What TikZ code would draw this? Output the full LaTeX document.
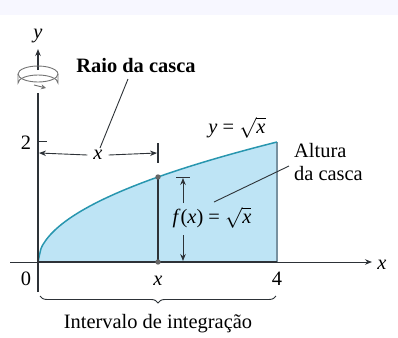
\documentclass[tikz,border=0pt]{standalone}
\usepackage{fontspec}
\setmainfont{Liberation Serif}
\usetikzlibrary{arrows.meta,decorations.pathreplacing}
\definecolor{curvec}{RGB}{40,150,175}
\definecolor{fillc}{RGB}{190,228,245}
\definecolor{axisc}{RGB}{45,50,55}
\definecolor{edgec}{RGB}{120,145,160}
\newcommand{\fs}{\fontsize{20.5}{23}\selectfont}
\newcommand{\rx}{$\sqrt{\textit{x}}$}
\tikzset{
  lbl/.style={font=\fs, text=black, inner sep=0pt},
  ilbl/.style={font=\fs\itshape, text=black, inner sep=0pt},
  lead/.style={draw=axisc, line width=0.9pt},
  dim/.style={draw=axisc, line width=0.9pt},
  tip/.style={-{Stealth[length=7pt,width=5.5pt]}},
}
\begin{document}
\begin{tikzpicture}[x=1bp,y=-1bp]
\useasboundingbox (0,0) rectangle (398,338);
\fill[blue!3] (0,0) rectangle (398,15);
% coordinates
\coordinate (O) at (38,262);
\coordinate (X4) at (277,262);
\coordinate (X4top) at (277,142);
\coordinate (P) at (158,177);
\coordinate (Px) at (158,262);
% fill region
\fill[fillc] (38,262) -- plot[domain=0:4,samples=80,smooth] ({38+59.75*\x},{262-60*sqrt(\x)}) -- (277,262) -- cycle;
\draw[edgec, line width=1.2pt] (X4top) -- (X4);
\draw[curvec, line width=1.5pt] plot[domain=0:4,samples=80,smooth] ({38+59.75*\x},{262-60*sqrt(\x)});
% axes
\draw[axisc, line width=0.9pt, tip] (10,262) -- (372,262) coordinate (xend);
\draw[axisc, line width=2.2pt] (O) -- (X4);
\node[ilbl] (xl) at (382,265) {x};
\draw[axisc, line width=1.1pt] (38,292) -- (38,93);
\draw[axisc, line width=1.1pt, tip] (38,70) -- (38,49);
\node[ilbl] (yl) at (38,36) {y};
% rotation icon
\draw[black!55, line width=0.9pt] (58,74) arc[start angle=0,end angle=180,x radius=20,y radius=8];
\draw[black!55, line width=0.9pt] (18,74) -- (18,83) arc[start angle=180,end angle=360,x radius=20,y radius=8] -- (58,74);
\draw[black!55, line width=0.9pt] (18,74) arc[start angle=180,end angle=300,x radius=20,y radius=8];
\draw[black!55, line width=0.9pt] (58,74) arc[start angle=0,end angle=-60,x radius=20,y radius=8];
\draw[black!55, line width=0.9pt, -{Stealth[length=5pt,width=5pt]}] (34,85) -- (46,88);
% ticks and labels
\draw[axisc, line width=0.9pt] (38,141) -- (47,141);
\node[lbl] (two) at (26,143) {2};
\node[lbl] (zero) at (26,279) {0};
\node[ilbl] (xp) at (158,281) {x};
\node[lbl] (four) at (277,279) {4};
% point x
\draw[axisc, line width=1.1pt] (P) -- (Px);
\fill[black!60] (P) circle (2.7);
\fill[black!60] (Px) circle (2.7);
% radius arrow
\draw[axisc, line width=1.1pt] (158,143) -- (158,163);
\node[ilbl, fill=white, inner xsep=6pt] (xr) at (98,155) {x};
\draw[dim, tip] (xr.east) -- (157,153);
\draw[dim, tip] (xr.west) -- (39,153);
% f(x) arrow
\draw[dim] (176,177) -- (190,177);
\node[lbl] (fx) at (212,218) {\textit{f}(\textit{x}) = \rx};
\draw[dim, tip] (183,203) -- (183,178);
\draw[dim, tip] (183,235) -- (183,261);
% labels
\node[lbl, font=\fs\bfseries] (raio) at (136,66) {Raio da casca};
\draw[lead] (128,79) -- (100,148);
\node[lbl] (eq) at (237,128) {\textit{y} = \rx};
\node[lbl, align=left, anchor=west] (alt) at (294,162) {Altura\\da casca};
\draw[lead] (289,166) -- (214,202);
% brace
\draw[axisc, line width=0.9pt, decorate, decoration={brace, mirror, amplitude=7pt}] (40,296) -- (276,296);
\node[lbl] (int) at (158,324) {Intervalo de integração};
\end{tikzpicture}
\end{document}
